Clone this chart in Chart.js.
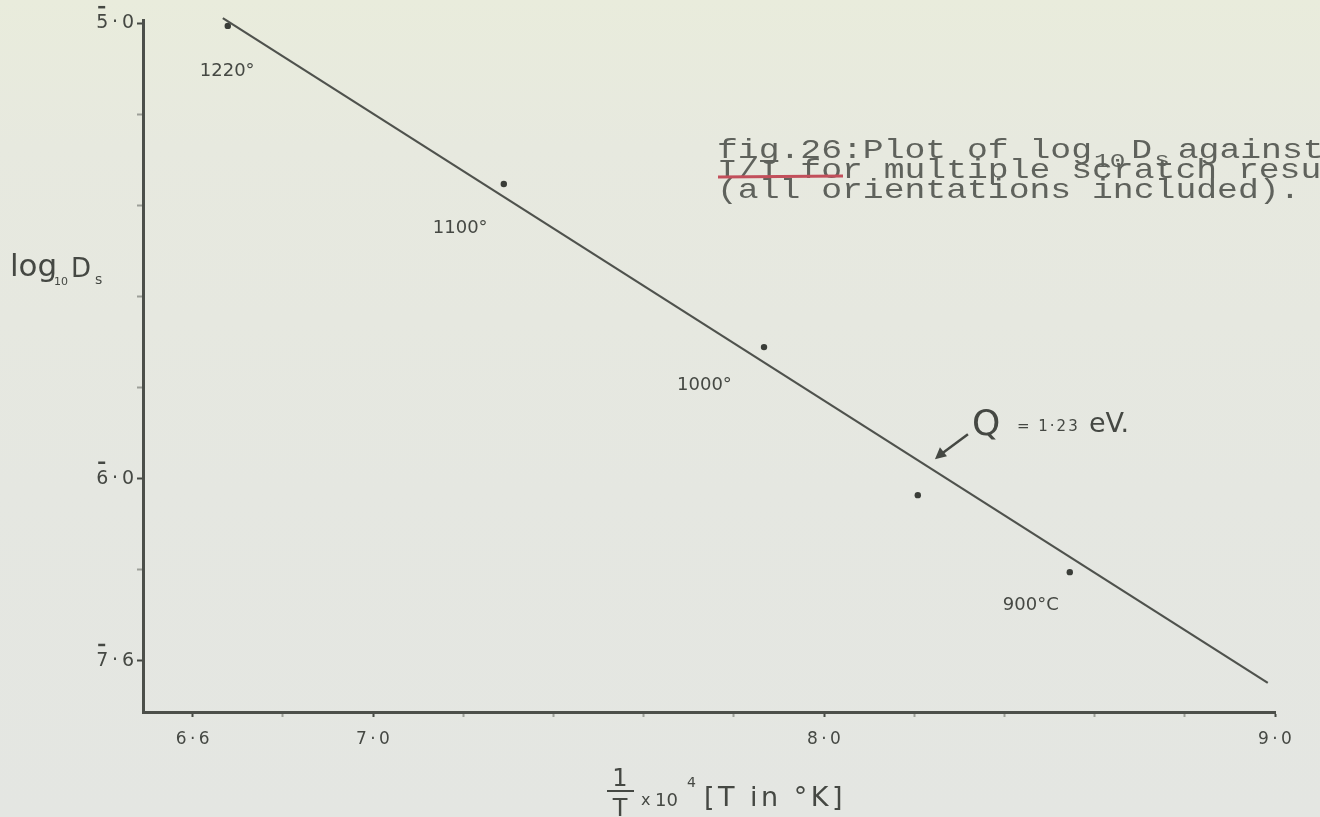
<!DOCTYPE html>
<html>
<head>
<meta charset="utf-8">
<script src="https://cdn.jsdelivr.net/npm/chart.js@4/dist/chart.umd.min.js"></script>
<style>
  html, body { margin: 0; padding: 0; width: 1320px; height: 817px; overflow: hidden; }
  body { background: linear-gradient(180deg, #e9ecdc 0%, #e7e9df 18%, #e5e7e1 60%, #e4e6e2 100%); }
  canvas { display: block; }
</style>
</head>
<body>
<canvas id="plot" width="1320" height="817"></canvas>
<script>
// Anneal temperatures and the measured surface diffusion coefficients
const tempLabels = ['1220°', '1100°', '1000°', '', '900°C'];
const invT = [6.678, 7.290, 7.867, 8.208, 8.545];          // 1/T x 10^4, T in K
const logDs = [-5.006, -5.353, -5.711, -6.036, -6.205];    // log10 Ds

// Straight line through the points, slope giving Q = 1.23 eV
const fitInvT = [6.667, 8.984];
const fitLogDs = [-4.989, -6.448];

// Axis ticks (every 0.2) and the values that carry a label.
// y labels use bar notation: the characteristic's minus sign sits over its digit.
const xTickValues = [6.6, 6.8, 7.0, 7.2, 7.4, 7.6, 7.8, 8.0, 8.2, 8.4, 8.6, 8.8, 9.0];
const xTickText = { '6.6': '6\u2009·\u20096', '7.0': '7\u2009·\u20090', '8.0': '8\u2009·\u20090', '9.0': '9\u2009·\u20090' };
const yTickValues = [-5.0, -5.2, -5.4, -5.6, -5.8, -6.0, -6.2, -6.4];
const yTickText = { '-5.0': '5\u2009·\u20090', '-6.0': '6\u2009·\u20090', '-6.4': '7\u2009·\u20096' };

const INK = '#454843';
const FAINT = '#9c9f98';
const Y_TICK_FONT = '19px "DejaVu Sans"';

// typewriter-style text, widened to a pica pitch
function typed(ctx, text, x, y, size) {
  ctx.save();
  ctx.translate(x, y);
  ctx.scale(1.24, 1);
  ctx.font = size + 'px "Liberation Mono"';
  ctx.fillText(text, 0, 0);
  const w = ctx.measureText(text).width * 1.24;
  ctx.restore();
  return w;
}

const annotations = {
  id: 'annotations',
  afterDraw(chart) {
    const { ctx, scales: { x, y } } = chart;
    ctx.save();
    ctx.fillStyle = INK;
    ctx.strokeStyle = INK;
    ctx.textBaseline = 'alphabetic';

    // bars over the negative characteristics of the y labels
    ctx.font = Y_TICK_FONT;
    ctx.lineWidth = 2.5;
    const labelRight = y.right - 6 - 3;
    yTickValues.forEach(v => {
      const t = yTickText[v.toFixed(1)];
      if (!t) return;
      const w = ctx.measureText(t).width;
      const py = y.getPixelForValue(v);
      const left = labelRight - w;
      ctx.beginPath();
      ctx.moveTo(left + 2, py - 16);
      ctx.lineTo(left + 9, py - 16);
      ctx.stroke();
    });

    // temperature beside each point
    const offsets = [[-28, 50], [-71, 49], [-87, 43], null, [-67, 38]];
    ctx.font = '18px "DejaVu Sans"';
    invT.forEach((v, i) => {
      if (!tempLabels[i]) return;
      const px = x.getPixelForValue(v);
      const py = y.getPixelForValue(logDs[i]);
      ctx.fillText(tempLabels[i], px + offsets[i][0], py + offsets[i][1]);
    });

    // activation energy with an arrow onto the line
    const tipV = 8.246;
    const tipX = x.getPixelForValue(tipV);
    const lineV = fitLogDs[0] + (tipV - fitInvT[0]) * (fitLogDs[1] - fitLogDs[0]) / (fitInvT[1] - fitInvT[0]);
    const tipY = y.getPixelForValue(lineV) - 12;
    ctx.lineWidth = 2.5;
    ctx.beginPath();
    ctx.moveTo(tipX + 33, tipY - 25);
    ctx.lineTo(tipX + 6, tipY - 5);
    ctx.stroke();
    ctx.beginPath();
    ctx.moveTo(tipX, tipY);
    ctx.lineTo(tipX + 12, tipY - 3);
    ctx.lineTo(tipX + 5, tipY - 12);
    ctx.closePath();
    ctx.fill();
    ctx.font = '36px "DejaVu Sans"';
    ctx.fillText('Q', tipX + 37, tipY - 24);
    ctx.font = '15px "DejaVu Sans"';
    ctx.letterSpacing = '2px';
    ctx.fillText('= 1·23', tipX + 82, tipY - 28);
    ctx.letterSpacing = '0px';
    ctx.font = '27px "DejaVu Sans"';
    ctx.fillText('eV.', tipX + 154, tipY - 27);

    // y axis title: log10 Ds
    ctx.font = '31px "DejaVu Sans"';
    ctx.fillText('log', 10, 276);
    ctx.font = '11px "DejaVu Sans"';
    ctx.fillText('10', 54, 285);
    ctx.font = '26px "DejaVu Sans"';
    ctx.fillText('D', 71, 277);
    ctx.font = '14px "DejaVu Sans"';
    ctx.fillText('s', 95, 284);

    // x axis title: 1/T x 10^4 [T in K]
    ctx.font = '24px "DejaVu Sans"';
    ctx.textAlign = 'center';
    ctx.fillText('1', 620, 786);
    ctx.fillText('T', 620, 816);
    ctx.lineWidth = 2;
    ctx.beginPath();
    ctx.moveTo(607, 791);
    ctx.lineTo(634, 791);
    ctx.stroke();
    ctx.textAlign = 'left';
    ctx.font = '16px "DejaVu Sans"';
    ctx.fillText('x', 641, 805);
    ctx.font = '18px "DejaVu Sans"';
    ctx.fillText('10', 655, 806);
    ctx.font = '14px "DejaVu Sans"';
    ctx.fillText('4', 687, 787);
    ctx.font = '27px "DejaVu Sans"';
    ctx.letterSpacing = '3.5px';
    ctx.fillText('[T in °K]', 704, 806);
    ctx.letterSpacing = '0px';

    // typed caption
    ctx.fillStyle = '#5f625c';
    let cx = 717;
    cx += typed(ctx, 'fig.26:Plot of log', cx, 158, 28);
    cx += typed(ctx, '10', cx + 2, 167, 21) + 8;
    cx += typed(ctx, 'D', cx, 158, 28);
    cx += typed(ctx, 's', cx + 2, 166, 21) + 10;
    typed(ctx, 'against', cx, 158, 28);
    typed(ctx, 'I/T for multiple scratch results', 717, 178, 28);
    typed(ctx, '(all orientations included).', 717, 198, 28);
    ctx.strokeStyle = '#c24f5b';
    ctx.lineWidth = 3;
    ctx.beginPath();
    ctx.moveTo(718, 177);
    ctx.lineTo(843, 176);
    ctx.stroke();
    ctx.restore();
  }
};

new Chart(document.getElementById('plot'), {
  type: 'scatter',
  data: {
    datasets: [
      {
        label: 'fit',
        data: fitInvT.map((v, i) => ({ x: v, y: fitLogDs[i] })),
        showLine: true,
        borderColor: '#4f524d',
        borderWidth: 2.2,
        pointRadius: 0,
        clip: false
      },
      {
        label: 'log10 Ds',
        data: invT.map((v, i) => ({ x: v, y: logDs[i] })),
        showLine: false,
        pointRadius: 3.2,
        pointBackgroundColor: '#3a3d38',
        pointBorderWidth: 0
      }
    ]
  },
  options: {
    responsive: false,
    animation: false,
    devicePixelRatio: 1,
    layout: { padding: { top: 20, right: 45, left: 0, bottom: 0 } },
    plugins: { legend: { display: false }, tooltip: { enabled: false } },
    scales: {
      x: {
        type: 'linear',
        min: 6.49,
        max: 9.0,
        afterBuildTicks: s => { s.ticks = xTickValues.map(v => ({ value: v })); },
        afterFit: s => { s.height = 105; },
        border: { display: true, color: '#4c4f4a', width: 3 },
        grid: {
          drawOnChartArea: false,
          drawTicks: true,
          tickLength: 5,
          tickWidth: 2,
          tickColor: c => (xTickText[c.tick.value.toFixed(1)] ? INK : FAINT)
        },
        ticks: {
          autoSkip: false,
          maxRotation: 0,
          padding: 12,
          color: INK,
          font: { family: 'DejaVu Sans', size: 17 },
          callback: v => xTickText[Number(v).toFixed(1)] || ''
        }
      },
      y: {
        type: 'linear',
        min: -6.512,
        max: -4.993,
        afterBuildTicks: s => { s.ticks = yTickValues.map(v => ({ value: v })); },
        afterFit: s => { s.width = 143; },
        border: { display: true, color: '#4c4f4a', width: 3 },
        grid: {
          drawOnChartArea: false,
          drawTicks: true,
          tickLength: 6,
          tickWidth: 2,
          tickColor: c => (yTickText[c.tick.value.toFixed(1)] ? INK : FAINT)
        },
        ticks: {
          autoSkip: false,
          padding: 3,
          color: INK,
          font: { family: 'DejaVu Sans', size: 19 },
          callback: v => yTickText[Number(v).toFixed(1)] || ''
        }
      }
    }
  },
  plugins: [annotations]
});
</script>
</body>
</html>
